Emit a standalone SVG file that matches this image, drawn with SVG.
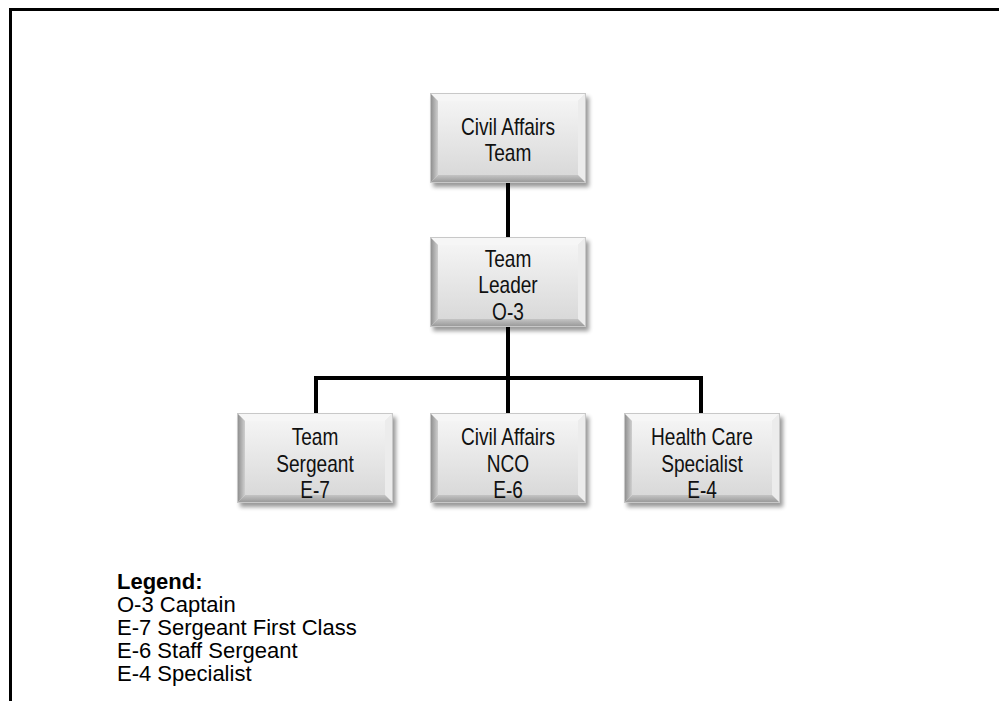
<svg xmlns="http://www.w3.org/2000/svg" xmlns:xlink="http://www.w3.org/1999/xlink" width="999" height="701" viewBox="0 0 999 701">
<style>
.t{font-family:"Liberation Sans",Arial,sans-serif;font-size:23px;fill:#111;text-anchor:middle}
.lg{font-family:"Liberation Sans",Arial,sans-serif;font-size:22px;fill:#000}
.conn{stroke:#000;stroke-width:4;fill:none;stroke-linecap:square}
</style>
<defs>
<filter id="blur" x="-10%" y="-10%" width="130%" height="130%"><feGaussianBlur stdDeviation="2"/></filter>
<linearGradient id="face" x1="0" y1="0" x2="0" y2="1"><stop offset="0" stop-color="#f4f4f4"/><stop offset="1" stop-color="#d9d9d9"/></linearGradient>
<linearGradient id="lb" x1="0" y1="0" x2="1" y2="0"><stop offset="0" stop-color="#888"/><stop offset="1" stop-color="#cfcfcf"/></linearGradient>
<linearGradient id="bb" x1="0" y1="0" x2="0" y2="1"><stop offset="0" stop-color="#c4c4c4"/><stop offset="1" stop-color="#959595"/></linearGradient>
<g id="box">
<rect x="3" y="4" width="156" height="90" fill="#000" opacity="0.4" filter="url(#blur)"/>
<rect x="0" y="0" width="156" height="90" fill="#e6e6e6"/>
<polygon points="0,0 156,0 148,8 8,8" fill="#f6f6f6"/>
<polygon points="156,0 156,90 148,82 148,8" fill="#ececec"/>
<polygon points="0,90 156,90 148,82 8,82" fill="url(#bb)"/>
<polygon points="0,0 8,8 8,82 0,90" fill="url(#lb)"/>
<rect x="8" y="8" width="140" height="74" fill="url(#face)"/>
<rect x="0.5" y="0.5" width="155" height="89" fill="none" stroke="#c8c8c8" stroke-width="1"/>
</g>
</defs>
<rect width="999" height="701" fill="#fff"/>
<path d="M10.5,701 V9.5 H999" fill="none" stroke="#000" stroke-width="3"/>
<g id="connectors">
<line class="conn" x1="508" y1="183" x2="508" y2="237"/>
<line class="conn" x1="508" y1="327" x2="508" y2="413"/>
<polyline class="conn" points="316,413 316,378 701,378 701,413"/>
</g>
<g id="civil-affairs-team"><use xlink:href="#box" x="430" y="93"/><g transform="translate(508 0) scale(0.83 1)"><text class="t" x="0" y="135">Civil Affairs</text><text class="t" x="0" y="161">Team</text></g></g>
<g id="team-leader"><use xlink:href="#box" x="430" y="237"/><g transform="translate(508 0) scale(0.83 1)"><text class="t" x="0" y="267">Team</text><text class="t" x="0" y="293">Leader</text><text class="t" x="0" y="320">O-3</text></g></g>
<g id="team-sergeant"><use xlink:href="#box" x="237" y="413"/><g transform="translate(315 0) scale(0.83 1)"><text class="t" x="0" y="445">Team</text><text class="t" x="0" y="472">Sergeant</text><text class="t" x="0" y="498">E-7</text></g></g>
<g id="civil-affairs-nco"><use xlink:href="#box" x="430" y="413"/><g transform="translate(508 0) scale(0.83 1)"><text class="t" x="0" y="445">Civil Affairs</text><text class="t" x="0" y="472">NCO</text><text class="t" x="0" y="498">E-6</text></g></g>
<g id="health-care-specialist"><use xlink:href="#box" x="624" y="413"/><g transform="translate(702 0) scale(0.83 1)"><text class="t" x="0" y="445">Health Care</text><text class="t" x="0" y="472">Specialist</text><text class="t" x="0" y="498">E-4</text></g></g>
<g id="legend">
<text class="lg" x="117" y="589" font-weight="bold">Legend:</text>
<text class="lg" x="117" y="612">O-3 Captain</text>
<text class="lg" x="117" y="635">E-7 Sergeant First Class</text>
<text class="lg" x="117" y="658">E-6 Staff Sergeant</text>
<text class="lg" x="117" y="681">E-4 Specialist</text>
</g>
</svg>
